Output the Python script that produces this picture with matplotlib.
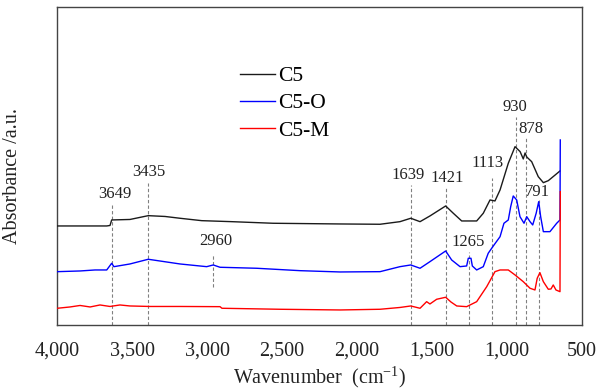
"""
FTIR spectra of C5, C5-O and C5-M (stacked, arbitrary absorbance units)
"""

import matplotlib
matplotlib.use('Agg')
import matplotlib.pyplot as plt
from matplotlib.ticker import FuncFormatter

plt.rcParams['font.family'] = ['Liberation Serif', 'DejaVu Serif']
plt.rcParams['mathtext.default'] = 'regular'

# --- data ---------------------------------------------------------------
c5_wn = [4000, 3670, 3648, 3637, 3515, 3393, 3281, 3181, 3036, 2836, 2560,
         2113, 1846, 1713, 1641, 1579, 1513, 1408, 1357, 1301, 1201, 1157,
         1112, 1079, 1045, 990, 945, 911, 890, 878, 867, 834, 790, 756,
         723, 677, 645]
c5_abs = [0.99, 0.99, 0.995, 1.05, 1.055, 1.093, 1.085, 1.067, 1.043, 1.033,
          1.017, 1.01, 1.007, 1.033, 1.067, 1.033, 1.09, 1.19, 1.117, 1.04,
          1.04, 1.117, 1.25, 1.24, 1.35, 1.617, 1.783, 1.733, 1.66, 1.72,
          1.68, 1.633, 1.483, 1.423, 1.443, 1.50, 1.54]

c5o_wn = [4000, 3848, 3748, 3670, 3637, 3622, 3515, 3393, 3181, 3003, 2959,
          2914, 2669, 2380, 2113, 1846, 1713, 1641, 1579, 1513, 1408, 1368,
          1312, 1268, 1257, 1239, 1230, 1201, 1157, 1124, 1090, 1045, 1019,
          990, 974, 957, 934, 912, 885, 867, 845, 827, 804, 787, 774, 756,
          712, 667, 645, 643]
c5o_abs = [0.533, 0.54, 0.55, 0.55, 0.617, 0.583, 0.61, 0.657, 0.61, 0.583,
           0.60, 0.577, 0.567, 0.543, 0.53, 0.533, 0.583, 0.60, 0.567, 0.633,
           0.74, 0.65, 0.583, 0.59, 0.667, 0.667, 0.59, 0.55, 0.583, 0.717,
           0.79, 0.883, 1.017, 1.05, 1.183, 1.29, 1.25, 1.083, 1.017, 1.083,
           1.033, 1.0, 1.117, 1.233, 1.083, 0.933, 0.933, 1.017, 1.05, 1.85]

c5m_wn = [4000, 3915, 3848, 3781, 3715, 3648, 3582, 3515, 3381, 3181, 2914,
          2901, 2514, 2113, 1846, 1713, 1641, 1579, 1535, 1513, 1468, 1408,
          1373, 1334, 1268, 1201, 1134, 1079, 1045, 990, 945, 890, 845, 812,
          797, 779, 756, 723, 705, 690, 672, 645, 643]
c5m_abs = [0.167, 0.18, 0.195, 0.18, 0.20, 0.185, 0.20, 0.19, 0.185, 0.185,
           0.183, 0.167, 0.157, 0.15, 0.157, 0.175, 0.19, 0.167, 0.233, 0.21,
           0.257, 0.277, 0.23, 0.19, 0.183, 0.233, 0.383, 0.533, 0.55, 0.55,
           0.50, 0.433, 0.367, 0.35, 0.467, 0.523, 0.433, 0.357, 0.36, 0.40,
           0.35, 0.333, 1.333]

# peak markers: label, dashed line position, line bottom/top, label position
peak_labels = ['3649', '3435', '2960', '1639', '1421', '1265', '1113', '930', '878', '791']
peak_line_wn = [3637, 3393, 2959, 1641, 1408, 1252, 1097, 941, 872, 787]
peak_line_lo = [0, 0, 0.383, 0, 0, 0, 0, 0, 0, 0]
peak_line_hi = [1.22, 1.42, 0.70, 1.40, 1.383, 0.733, 1.47, 2.083, 1.883, 1.25]
peak_text_wn = [3614, 3388, 2941, 1659, 1396, 1259, 1127, 945, 838, 796]
peak_text_abs = [1.31, 1.525, 0.84, 1.50, 1.47, 0.833, 1.617, 2.175, 1.958, 1.33]

# --- figure --------------------------------------------------------------
fig = plt.figure(figsize=(6.03, 3.92), dpi=100)
ax = fig.add_axes([0.095, 0.171, 0.8697, 0.8105])

for wn, lo, hi in zip(peak_line_wn, peak_line_lo, peak_line_hi):
    ax.plot([wn, wn], [lo, hi], color='#808080', lw=0.8, ls=(0, (3, 2)), zorder=1)
for lab, tx, ty in zip(peak_labels, peak_text_wn, peak_text_abs):
    ax.text(tx, ty, lab, ha='center', va='center', fontsize=12, color='#222222')

ax.plot(c5_wn, c5_abs, color='#1a1a1a', lw=1.0, label='C5', zorder=3)
ax.plot(c5o_wn, c5o_abs, color='#0000ff', lw=1.0, label='C5-O', zorder=3)
ax.plot(c5m_wn, c5m_abs, color='#ff0000', lw=1.0, label='C5-M', zorder=3)

ax.set_xlim(4000, 500)
ax.set_ylim(0, 3.177)
ax.set_xticks([4000, 3500, 3000, 2500, 2000, 1500, 1000, 500])
ax.xaxis.set_major_formatter(FuncFormatter(lambda v, p: f'{int(v):,}'))
ax.set_yticks([])
ax.tick_params(axis='x', length=0, pad=12, labelsize=14.5, colors='#222222')

for sp in ax.spines.values():
    sp.set_color('#444444')
    sp.set_linewidth(1.0)

ax.set_xlabel('Wavenumber  (cm$^{-1}$)', fontsize=14.5, color='#222222')
ax.xaxis.set_label_coords(0.5, -0.125)
ax.set_ylabel('Absorbance /a.u.', fontsize=14.5, color='#222222')
ax.yaxis.set_label_coords(-0.068, 0.47)

ax.legend(loc='upper left', bbox_to_anchor=(0.348, 0.815), frameon=False,
          fontsize=15.5, handlelength=1.63, handletextpad=0.15,
          labelspacing=0.34, borderpad=0, borderaxespad=0)

plt.savefig('out.png', dpi=100)
plt.close()
